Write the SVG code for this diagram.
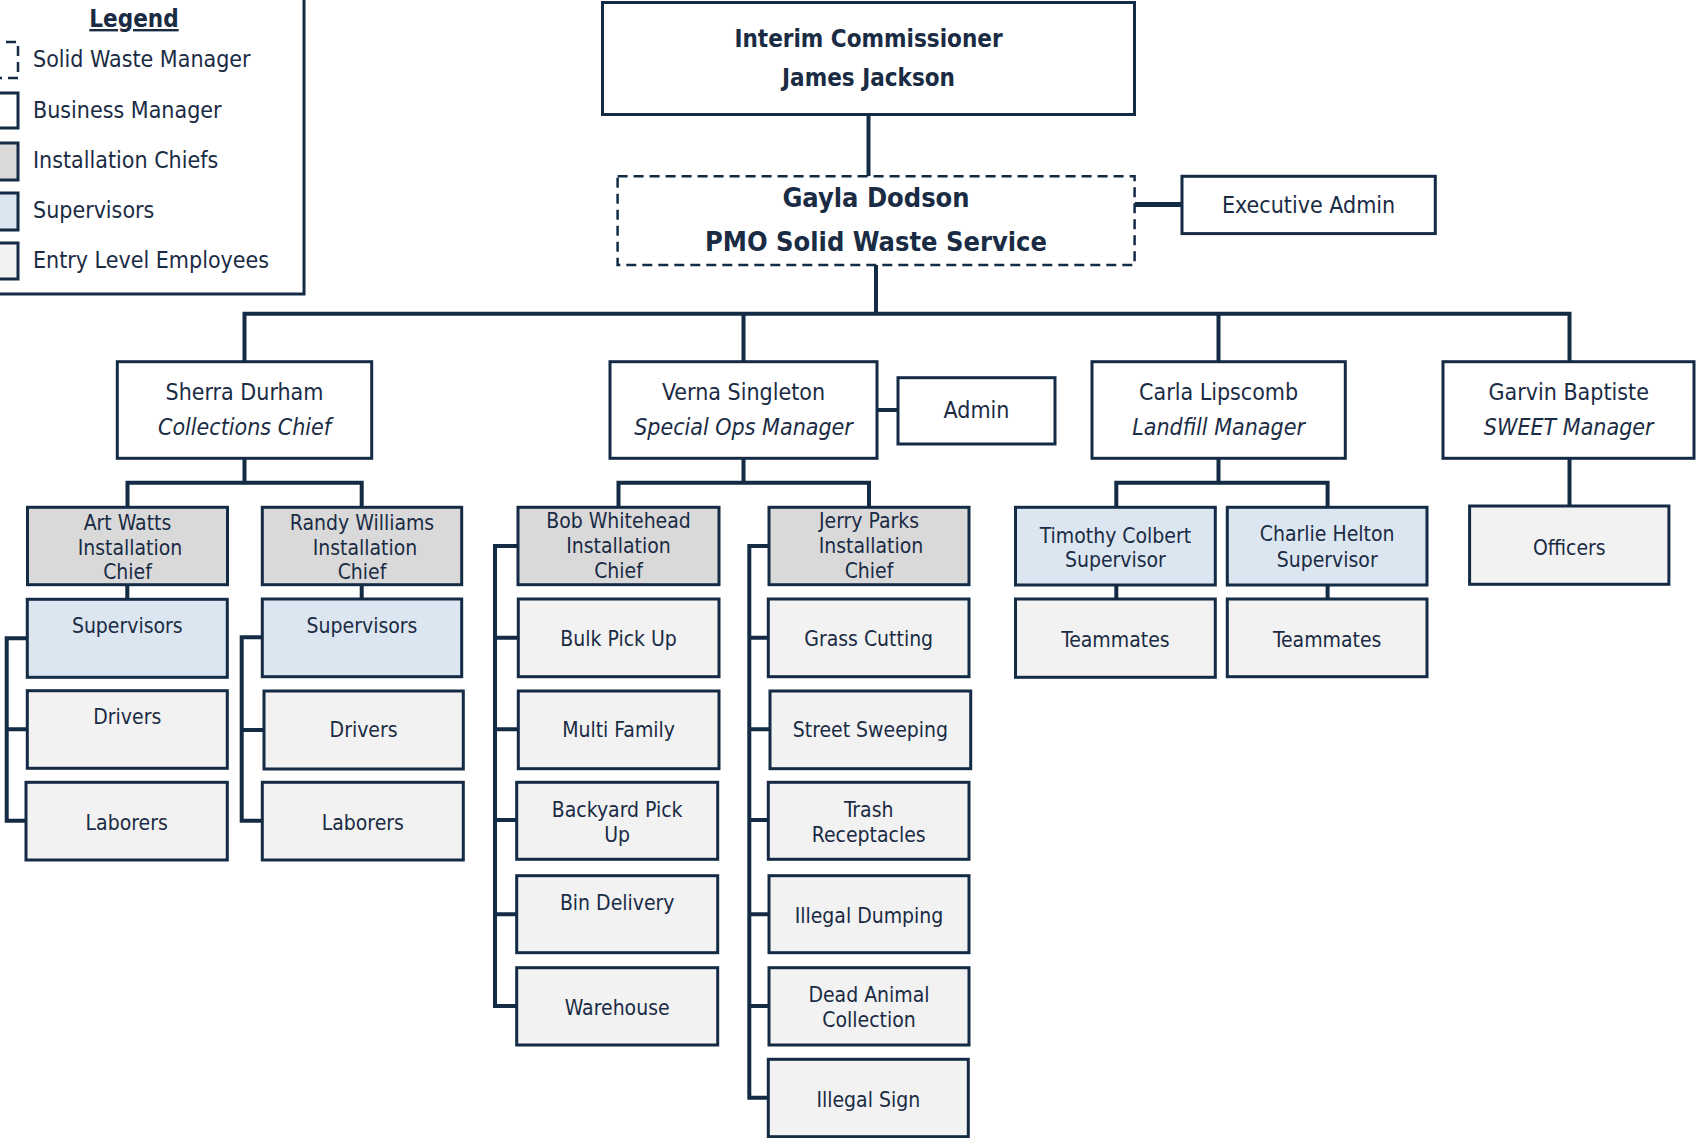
<svg xmlns="http://www.w3.org/2000/svg" width="1696" height="1138" viewBox="0 0 1696 1138">
<style>
text{font-family:"DejaVu Sans Condensed","DejaVu Sans",sans-serif;fill:#1a2b44;text-anchor:middle;font-size:21px}
.lg{text-anchor:start;font-size:23px}
.m{font-size:23px}
.it{font-style:italic}
.b{font-weight:bold}
.t24{font-size:24px}
.t27{font-size:27px}
.u{text-decoration:underline}
rect{stroke:#142b45;stroke-width:3}
.w{fill:#ffffff}
.c{fill:#d9d9d9}
.s{fill:#dce6f1}
.e{fill:#f2f2f2}
.d{stroke-dasharray:10 6;stroke-width:2.5}
#connectors path{stroke:#142b45;stroke-width:4;fill:none}
</style>
<g id="legend">
<rect class="w" x="-10" y="-10" width="314" height="304"/>
<text class="b t24 u" x="134" y="27">Legend</text>
<rect class="w d" x="-10" y="42" width="28" height="36"/>
<rect class="w" x="-10" y="93" width="28" height="35"/>
<rect class="c" x="-10" y="143" width="28" height="37"/>
<rect class="s" x="-10" y="193" width="28" height="37"/>
<rect class="e" x="-10" y="243" width="28" height="36"/>
<text class="lg" x="33" y="67">Solid Waste Manager</text>
<text class="lg" x="33" y="118">Business Manager</text>
<text class="lg" x="33" y="168">Installation Chiefs</text>
<text class="lg" x="33" y="218">Supervisors</text>
<text class="lg" x="33" y="268">Entry Level Employees</text>
</g>
<g id="connectors">
<path d="M868.5 114.6V176.3"/>
<path d="M1134.6 204.4H1182" style="stroke-width:5"/>
<path d="M876 265V313.7"/>
<path d="M244.5 361.7V313.7H1569.5V361.7M743.5 313.7V361.7M1218.5 313.7V361.7"/>
<path d="M877 410H898"/>
<path d="M244.5 458.3V482.7M127.5 507.3V482.7H361.7V507.3"/>
<path d="M127.3 584.7V599.3M361.7 584.7V599"/>
<path d="M27.3 638.3H6.7V820.7H26M6.7 729.3H27.3"/>
<path d="M262.3 637.3H241.7V820.7H262.3M241.7 730H264"/>
<path d="M743.5 458.3V482.7M618.5 507.3V482.7H869V507.3"/>
<path d="M518 546H495V1006H516.7M495 637.7H518M495 729.3H518M495 820H517M495 914.3H517"/>
<path d="M769 546H749.3V1097.7H768.3M749.3 637.7H768.3M749.3 729.3H770M749.3 820H768.3M749.3 914.3H769M749.3 1006H769"/>
<path d="M1218.5 458.3V482.7M1116.3 507.3V482.7H1327.6V507.3"/>
<path d="M1116.3 585V599M1327.6 585V599"/>
<path d="M1569.5 458.3V506"/>
</g>
<g id="interim"><rect class="w" x="602.5" y="2.5" width="532" height="112"/><text class="b t24" x="868.5" y="46.7">Interim Commissioner</text><text class="b t24" x="868.5" y="86">James Jackson</text></g>
<g id="gayla"><rect class="w d" x="617.6" y="176.3" width="517" height="88.7"/><text class="b t27" x="876" y="207">Gayla Dodson</text><text class="b t27" x="876" y="251">PMO Solid Waste Service</text></g>
<g id="execadmin"><rect class="w" x="1182" y="176.3" width="253.3" height="57.3"/><text class="m" x="1308.6" y="213">Executive Admin</text></g>
<g id="sherra"><rect class="w" x="117.3" y="361.7" width="254.4" height="96.6"/><text class="m" x="244.5" y="400">Sherra Durham</text><text class="m it" x="244.5" y="435">Collections Chief</text></g>
<g id="verna"><rect class="w" x="610" y="361.7" width="267" height="96.6"/><text class="m" x="743.5" y="400">Verna Singleton</text><text class="m it" x="743.5" y="435">Special Ops Manager</text></g>
<g id="admin"><rect class="w" x="898" y="377.7" width="157" height="66.3"/><text class="m" x="976.5" y="417.7">Admin</text></g>
<g id="carla"><rect class="w" x="1092" y="361.7" width="253.3" height="96.6"/><text class="m" x="1218.6" y="400">Carla Lipscomb</text><text class="m it" x="1218.6" y="435">Landfill Manager</text></g>
<g id="garvin"><rect class="w" x="1443" y="361.7" width="251" height="96.6"/><text class="m" x="1568.7" y="400">Garvin Baptiste</text><text class="m it" x="1568.7" y="435">SWEET Manager</text></g>
<g id="artwatts"><rect class="c" x="27.5" y="507.3" width="200" height="77.4"/><text x="127.5" y="530">Art Watts</text><text x="130" y="555">Installation</text><text x="127.5" y="579">Chief</text></g>
<g id="randy"><rect class="c" x="262.3" y="507.3" width="199.4" height="77.4"/><text x="362" y="530">Randy Williams</text><text x="365" y="555">Installation</text><text x="362" y="579">Chief</text></g>
<g id="art-sup"><rect class="s" x="27.3" y="599.3" width="200" height="78"/><text x="127.3" y="633.3">Supervisors</text></g>
<g id="art-drivers"><rect class="e" x="27.3" y="690.7" width="200" height="77.6"/><text x="127.3" y="724">Drivers</text></g>
<g id="art-laborers"><rect class="e" x="26" y="782.3" width="201.3" height="77.7"/><text x="126.7" y="830">Laborers</text></g>
<g id="randy-sup"><rect class="s" x="262.3" y="599" width="199.4" height="77.7"/><text x="362" y="633">Supervisors</text></g>
<g id="randy-drivers"><rect class="e" x="264" y="691" width="199.3" height="78"/><text x="363.6" y="737.3">Drivers</text></g>
<g id="randy-laborers"><rect class="e" x="262.3" y="782.3" width="201" height="77.7"/><text x="362.8" y="830">Laborers</text></g>
<g id="bob"><rect class="c" x="518" y="507.3" width="201" height="77.4"/><text x="618.5" y="528.3">Bob Whitehead</text><text x="618.5" y="553.3">Installation</text><text x="618.5" y="578">Chief</text></g>
<g id="jerry"><rect class="c" x="769" y="507.3" width="200" height="77.4"/><text x="869" y="528.3">Jerry Parks</text><text x="871" y="553.3">Installation</text><text x="869" y="578">Chief</text></g>
<g id="bulk"><rect class="e" x="518.3" y="599" width="200.7" height="77.7"/><text x="618.6" y="645.7">Bulk Pick Up</text></g>
<g id="multi"><rect class="e" x="518.3" y="691" width="200.7" height="77.7"/><text x="618.6" y="737.3">Multi Family</text></g>
<g id="backyard"><rect class="e" x="516.7" y="782.3" width="201" height="77"/><text x="617.2" y="816.7">Backyard Pick</text><text x="617.2" y="841.7">Up</text></g>
<g id="bin"><rect class="e" x="516.7" y="875.7" width="201" height="77"/><text x="617.2" y="910">Bin Delivery</text></g>
<g id="warehouse"><rect class="e" x="516.7" y="967.7" width="201" height="77.3"/><text x="617.2" y="1015">Warehouse</text></g>
<g id="grass"><rect class="e" x="768.3" y="599" width="200.7" height="77.7"/><text x="868.7" y="645.7">Grass Cutting</text></g>
<g id="street"><rect class="e" x="770" y="691" width="200.7" height="77.7"/><text x="870.4" y="737.3">Street Sweeping</text></g>
<g id="trash"><rect class="e" x="768.3" y="782.3" width="200.7" height="77"/><text x="868.7" y="816.7">Trash</text><text x="868.7" y="841.7">Receptacles</text></g>
<g id="dumping"><rect class="e" x="769" y="875.7" width="200" height="77"/><text x="869" y="923.3">Illegal Dumping</text></g>
<g id="deadanimal"><rect class="e" x="769" y="967.7" width="200" height="77.3"/><text x="869" y="1001.7">Dead Animal</text><text x="869" y="1026.7">Collection</text></g>
<g id="illegalsign"><rect class="e" x="768.3" y="1059.3" width="200" height="77.4"/><text x="868.3" y="1106.7">Illegal Sign</text></g>
<g id="timothy"><rect class="s" x="1015.5" y="507.3" width="199.8" height="77.7"/><text x="1115.4" y="543">Timothy Colbert</text><text x="1115.4" y="567">Supervisor</text></g>
<g id="charlie"><rect class="s" x="1227.3" y="507.3" width="199.7" height="77.7"/><text x="1327.2" y="541">Charlie Helton</text><text x="1327.2" y="567">Supervisor</text></g>
<g id="teammates1"><rect class="e" x="1015.5" y="599" width="199.8" height="78.3"/><text x="1115.4" y="646.7">Teammates</text></g>
<g id="teammates2"><rect class="e" x="1227.3" y="599" width="199.7" height="77.7"/><text x="1327.2" y="646.7">Teammates</text></g>
<g id="officers"><rect class="e" x="1469.6" y="506" width="199.3" height="78.3"/><text x="1569.3" y="555">Officers</text></g>
</svg>
